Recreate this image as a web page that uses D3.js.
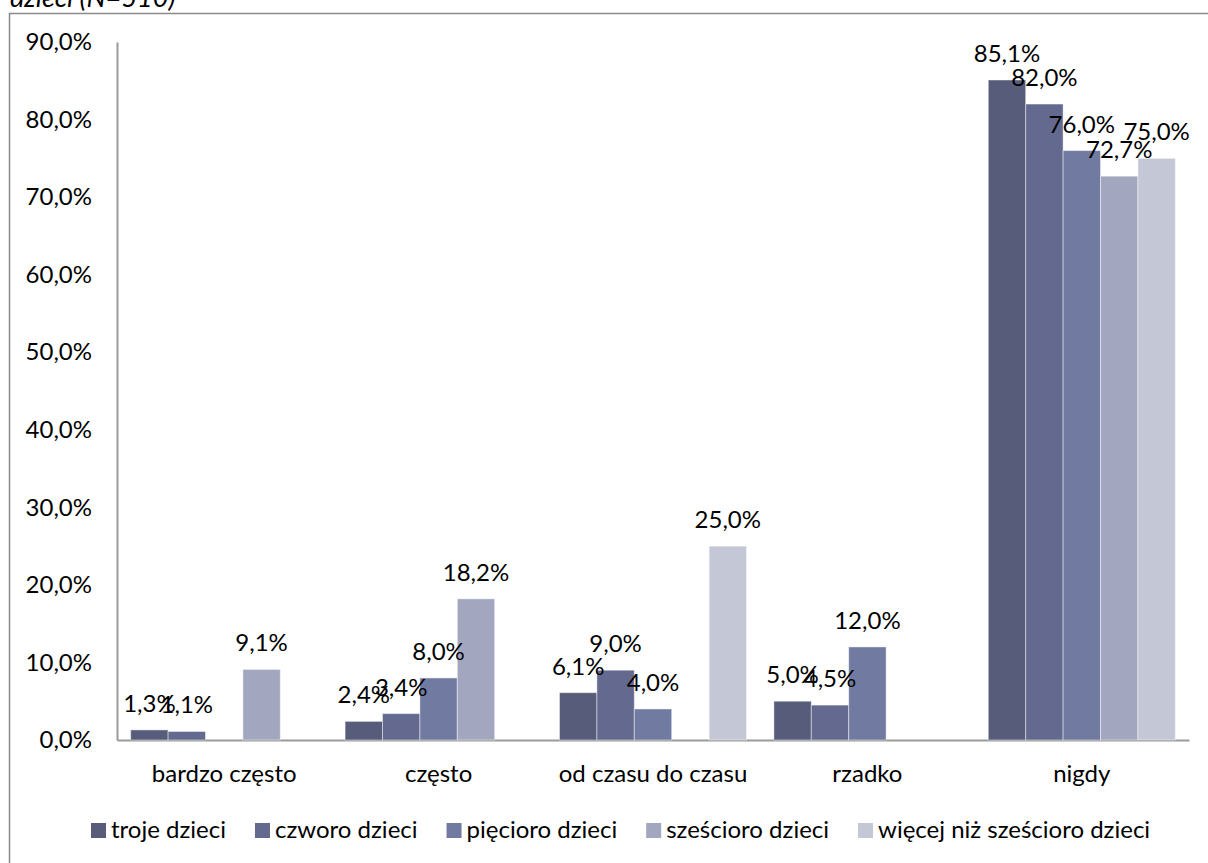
<!DOCTYPE html>
<html>
<head>
<meta charset="utf-8">
<script src="https://cdnjs.cloudflare.com/ajax/libs/d3/7.8.5/d3.min.js"></script>
<style>
    body { margin: 0; background: #fff; }
    svg { display: block; font-family: Lato, "Open Sans", sans-serif; }
</style>
</head>
<body>
<div class="chart"></div>
<script>

//////////
// DATA //
//////////

var categories = ['bardzo często', 'często', 'od czasu do czasu', 'rzadko', 'nigdy'];

var seriesNames = ['troje dzieci', 'czworo dzieci', 'pięcioro dzieci', 'sześcioro dzieci', 'więcej niż sześcioro dzieci'];

// 0 = no bar / no label in the original
var troje = [1.3, 2.4, 6.1, 5.0, 85.1],
    czworo = [1.1, 3.4, 9.0, 4.5, 82.0],
    piecioro = [0, 8.0, 4.0, 12.0, 76.0],
    szescioro = [9.1, 18.2, 0, 0, 72.7],
    wiecej = [0, 0, 25.0, 0, 75.0];

var yTicks = [0, 10, 20, 30, 40, 50, 60, 70, 80, 90];

var colors = ['#565c7a', '#646a8f', '#717aa0', '#a2a6be', '#c4c8d6'];

/////////////////////
// INTIAL SETTINGS //
/////////////////////

var w = 1208,
    h = 863,
    fontSize = '24px';

var fmt = function(v) { return d3.format('.1f')(v).replace('.', ',') + '%'; };

var svg = d3.select('.chart')
    .append('svg')
    .attr('width', w)
    .attr('height', h);

// title (cut off at the top of the picture)
svg.append('text')
    .attr('x', 10)
    .attr('y', 7)
    .style('font-style', 'italic')
    .style('font-size', '27px')
    .attr('fill', '#000')
    .text('dzieci (N=510)');

// outer frame
svg.append('rect')
    .attr('x', 9.5)
    .attr('y', 13.5)
    .attr('width', w + 10)
    .attr('height', h + 10)
    .attr('fill', 'none')
    .attr('stroke', '#8a8a8a')
    .attr('stroke-width', 1.5);

////////////
// SCALES //
////////////

var x0 = d3.scaleBand()
    .domain(categories)
    .range([117, 1189])
    .paddingInner(0)
    .paddingOuter(0);

var x1 = d3.scaleBand()
    .domain(seriesNames)
    .range([0, x0.bandwidth()])
    .paddingInner(0)
    .paddingOuter(0.366);

var y = d3.scaleLinear()
    .domain([0, 90])
    .range([740, 42]);

var color = d3.scaleOrdinal()
    .domain(seriesNames)
    .range(colors);

var table = [troje, czworo, piecioro, szescioro, wiecej].map(function(vals, i) {
    return { name: seriesNames[i], values: vals };
});

//////////
// AXIS //
//////////

var yAxis = d3.axisLeft(y)
    .tickValues(yTicks)
    .tickSize(0)
    .tickPadding(25)
    .tickFormat(fmt);

var gy = svg.append('g')
    .attr('transform', 'translate(117,0)')
    .call(yAxis);

gy.select('.domain')
    .attr('stroke', '#9a9a9a')
    .attr('stroke-width', 2);

gy.selectAll('text')
    .style('font-family', 'Lato, "Open Sans", sans-serif')
    .style('font-size', fontSize)
    .attr('fill', '#000');

var xAxis = d3.axisBottom(x0)
    .tickSize(0)
    .tickPadding(25);

var gx = svg.append('g')
    .attr('transform', 'translate(0,740)')
    .call(xAxis);

gx.select('.domain')
    .attr('stroke', '#9a9a9a')
    .attr('stroke-width', 2);

gx.selectAll('text')
    .style('font-family', 'Lato, "Open Sans", sans-serif')
    .style('font-size', fontSize)
    .attr('fill', '#000');

//////////
// BARS //
//////////

var points = table.flatMap(function(s) {
    return s.values.map(function(v, i) { return { name: s.name, cat: categories[i], value: v }; })
        .filter(function(d) { return d.value > 0; });
});

svg.selectAll('.bar')
    .data(points)
    .enter()
    .append('rect')
    .attr('class', 'bar')
    .attr('x', function(d) { return x0(d.cat) + x1(d.name); })
    .attr('y', function(d) { return y(d.value); })
    .attr('width', x1.bandwidth())
    .attr('height', function(d) { return y(0) - y(d.value); })
    .attr('fill', function(d) { return color(d.name); })
    .attr('stroke', 'rgba(255,255,255,0.45)')
    .attr('stroke-width', 1);

// labels drawn after all bars so they sit on top
svg.selectAll('.label')
    .data(points)
    .enter()
    .append('text')
    .attr('class', 'label')
    .attr('x', function(d) { return x0(d.cat) + x1(d.name) + x1.bandwidth() / 2; })
    .attr('y', function(d) { return y(d.value) - 18; })
    .attr('text-anchor', 'middle')
    .style('font-size', fontSize)
    .attr('fill', '#000')
    .text(function(d) { return fmt(d.value); });

////////////
// LEGEND //
////////////

var legend = svg.append('g')
    .attr('class', 'legend');

var lx = 91;

seriesNames.forEach(function(name) {
    var item = legend.append('g')
        .attr('transform', 'translate(' + lx + ',0)');

    item.append('rect')
        .attr('x', 0)
        .attr('y', 823)
        .attr('width', 15)
        .attr('height', 15)
        .attr('fill', color(name));

    var t = item.append('text')
        .attr('x', 20)
        .attr('y', 838)
        .style('font-size', fontSize)
        .attr('fill', '#000')
        .text(name);

    lx += 20 + t.node().getComputedTextLength() + 29;
});

</script>
</body>
</html>
